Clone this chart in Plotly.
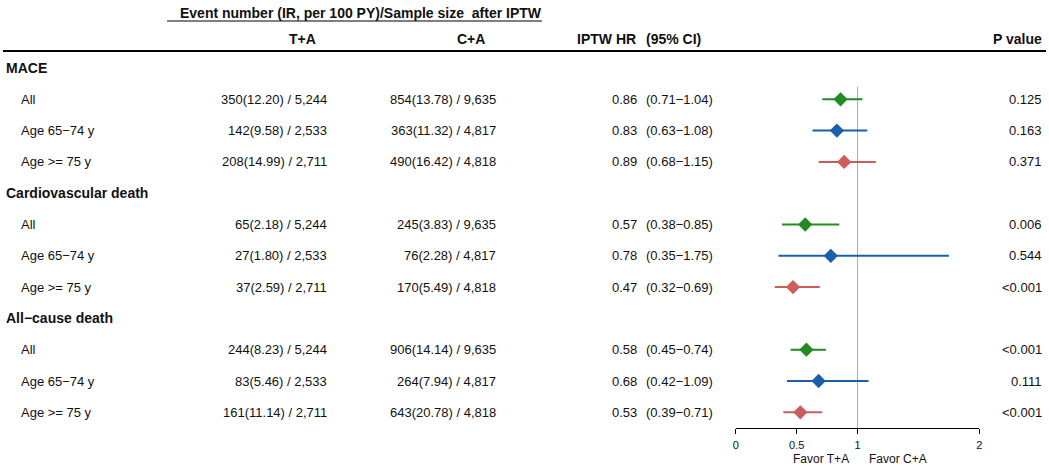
import plotly.graph_objects as go

W, H = 1049, 468

# data
groups = ["MACE", "Cardiovascular death", "All\u2212cause death"]
subgroups = ["All", "Age 65\u221274 y", "Age >= 75 y"]
ta_text = ["350(12.20) / 5,244", "142(9.58) / 2,533", "208(14.99) / 2,711",
           "65(2.18) / 5,244", "27(1.80) / 2,533", "37(2.59) / 2,711",
           "244(8.23) / 5,244", "83(5.46) / 2,533", "161(11.14) / 2,711"]
ca_text = ["854(13.78) / 9,635", "363(11.32) / 4,817", "490(16.42) / 4,818",
           "245(3.83) / 9,635", "76(2.28) / 4,817", "170(5.49) / 4,818",
           "906(14.14) / 9,635", "264(7.94) / 4,817", "643(20.78) / 4,818"]
hr = [0.86, 0.83, 0.89, 0.57, 0.78, 0.47, 0.58, 0.68, 0.53]
ci_lo = [0.71, 0.63, 0.68, 0.38, 0.35, 0.32, 0.45, 0.42, 0.39]
ci_hi = [1.04, 1.08, 1.15, 0.85, 1.75, 0.69, 0.74, 1.09, 0.71]
p_text = ["0.125", "0.163", "0.371", "0.006", "0.544", "<0.001",
          "<0.001", "0.111", "<0.001"]
x_ticks = [0, 0.5, 1, 2]
colors = ["#228B22", "#1B5FAA", "#CD5C5C"]

FONT = "Liberation Sans"
ROW0, STEP = 68, 31.3  # pixel y of first row, row spacing


def px(x):
    return x / W


def py(y):
    return 1 - y / H


def row_of(i):
    g, s = divmod(i, 3)
    return 4 * g + 1 + s


fig = go.Figure()

# forest points + CI bars, one trace per subgroup colour
for s, col in enumerate(colors):
    idx = [i for i in range(len(hr)) if i % 3 == s]
    fig.add_trace(go.Scatter(
        x=[hr[i] for i in idx],
        y=[row_of(i) for i in idx],
        mode="markers",
        marker=dict(symbol="diamond", size=11, color=col),
        error_x=dict(type="data", symmetric=False,
                     array=[ci_hi[i] - hr[i] for i in idx],
                     arrayminus=[hr[i] - ci_lo[i] for i in idx],
                     width=0, thickness=2, color=col),
        showlegend=False, hoverinfo="skip",
    ))

ann = []


def txt(x, y, s, anchor="left", size=13, bold=False, yref="y"):
    ann.append(dict(x=px(x), y=y, xref="paper", yref=yref, text=f"<b>{s}</b>" if bold else s,
                    xanchor=anchor, yanchor="middle", showarrow=False,
                    font=dict(family=FONT, size=size, color="#111111")))


# column headers
txt(176, py(13), "Event number (IR, per 100 PY)/Sample size  after IPTW", bold=True, size=14, yref="paper")
txt(301, py(39), "T+A", "center", 14, True, "paper")
txt(471, py(39), "C+A", "center", 14, True, "paper")
txt(639, py(39), "IPTW HR", "right", 14, True, "paper")
txt(645, py(39), "(95% CI)", "left", 14, True, "paper")
txt(1047, py(39), "P value", "right", 14, True, "paper")

for g, name in enumerate(groups):
    txt(1, 4 * g, name, bold=True, size=14)

for i in range(len(hr)):
    r = row_of(i)
    txt(16, r, subgroups[i % 3])
    txt(328, r, ta_text[i], "right")
    txt(498, r, ca_text[i], "right")
    txt(640, r, f"{hr[i]:.2f}", "right")
    txt(645, r, f"({ci_lo[i]:.2f}\u2212{ci_hi[i]:.2f})")
    txt(1047, r, p_text[i], "right")

txt(823, py(459), "Favor T+A", "center", 12, yref="paper")
txt(900, py(459), "Favor C+A", "center", 12, yref="paper")

shapes = [
    dict(type="line", xref="paper", yref="paper", x0=px(165), x1=px(542),
         y0=py(21), y1=py(21), line=dict(color="black", width=1)),
    dict(type="line", xref="paper", yref="paper", x0=0, x1=1,
         y0=py(51), y1=py(51), line=dict(color="black", width=2)),
    dict(type="line", xref="x", yref="y", x0=1, x1=1, y0=0.6, y1=(428 - ROW0) / STEP,
         line=dict(color="#AAAAAA", width=1), layer="below"),
]

fig.update_layout(
    width=W, height=H,
    margin=dict(l=0, r=0, t=0, b=0),
    paper_bgcolor="white", plot_bgcolor="white",
    annotations=ann, shapes=shapes,
    xaxis=dict(domain=[px(737), px(982)], range=[0, 2], tickvals=x_ticks,
               ticktext=["0", "0.5", "1", "2"], showgrid=False, zeroline=False,
               showline=True, linecolor="black", linewidth=1, ticks="outside",
               ticklen=5, tickcolor="black", ticklabelstandoff=2,
               tickfont=dict(family=FONT, size=11, color="#111111"), fixedrange=True),
    yaxis=dict(domain=[1 - 428 / H, 1], range=[(428 - ROW0) / STEP, -ROW0 / STEP],
               visible=False, fixedrange=True),
)

fig.write_html("out.html", config={"displayModeBar": False},
               post_script="document.body.style.margin='0';document.body.style.overflow='hidden';")
